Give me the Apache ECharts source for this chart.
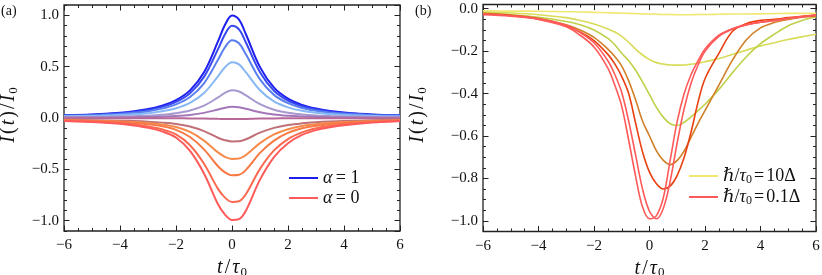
<!DOCTYPE html>
<html>
<head>
<meta charset="utf-8">
<script src="https://cdn.jsdelivr.net/npm/echarts@6/dist/echarts.min.js"></script>
<style>
html,body{margin:0;padding:0;background:#fff;}
#c{width:822px;height:275px;}
</style>
</head>
<body>
<div id="c"></div>
<script>
// ---------- Panel (a) data ----------
const T_A = [-6,-5,-4,-3.5,-3,-2.5,-2,-1.5,-1,-0.5,-0.25,0,0.25,0.5,1,1.5,2,2.5,3,3.5,4,5,6];
const A_P1 = [0.028,0.034,0.051,0.066,0.087,0.12,0.174,0.269,0.445,0.745,0.907,0.997,0.957,0.813,0.495,0.296,0.189,0.128,0.092,0.069,0.054,0.035,0.027];
const A_P2 = [0.026,0.031,0.046,0.059,0.078,0.108,0.157,0.242,0.40,0.67,0.815,0.897,0.862,0.732,0.446,0.266,0.17,0.115,0.083,0.062,0.049,0.032,0.025];
const A_P3 = [0.023,0.026,0.039,0.05,0.066,0.091,0.132,0.204,0.338,0.566,0.689,0.758,0.727,0.618,0.376,0.225,0.144,0.097,0.07,0.052,0.041,0.027,0.021];
const A_P4 = [0.018,0.019,0.028,0.036,0.047,0.065,0.095,0.147,0.243,0.406,0.494,0.543,0.522,0.443,0.27,0.161,0.103,0.07,0.05,0.038,0.029,0.019,0.015];
const A_P5 = [0.01,0.01,0.014,0.018,0.023,0.032,0.047,0.073,0.12,0.2,0.245,0.269,0.258,0.22,0.134,0.08,0.051,0.035,0.025,0.019,0.015,0.01,0.008];
const A_P6 = [0.004,0.005,0.006,0.008,0.01,0.013,0.019,0.03,0.05,0.083,0.1,0.11,0.105,0.09,0.055,0.033,0.021,0.014,0.01,0.008,0.006,0.004,0.003];
const A_Z  = [-0.002,-0.002,-0.002,-0.002,-0.003,-0.003,-0.003,-0.004,-0.005,-0.008,-0.009,-0.01,-0.01,-0.009,-0.006,-0.004,-0.003,-0.003,-0.003,-0.002,-0.002,-0.002,-0.002];
const A_N5 = [-0.018,-0.021,-0.026,-0.03,-0.036,-0.045,-0.058,-0.083,-0.128,-0.192,-0.216,-0.228,-0.227,-0.207,-0.143,-0.096,-0.068,-0.052,-0.042,-0.035,-0.03,-0.022,-0.018];
const A_N4 = [-0.022,-0.026,-0.033,-0.04,-0.05,-0.064,-0.088,-0.136,-0.22,-0.335,-0.378,-0.398,-0.395,-0.36,-0.245,-0.16,-0.11,-0.078,-0.06,-0.048,-0.04,-0.028,-0.022];
const A_N3 = [-0.025,-0.03,-0.04,-0.05,-0.062,-0.08,-0.115,-0.185,-0.305,-0.47,-0.53,-0.558,-0.553,-0.505,-0.34,-0.22,-0.145,-0.1,-0.075,-0.06,-0.048,-0.033,-0.025];
const A_N2 = [-0.028,-0.034,-0.05,-0.063,-0.082,-0.11,-0.16,-0.265,-0.445,-0.69,-0.775,-0.817,-0.81,-0.74,-0.495,-0.315,-0.205,-0.14,-0.1,-0.077,-0.06,-0.04,-0.028];
const A_N1 = [-0.03,-0.038,-0.056,-0.072,-0.095,-0.13,-0.19,-0.32,-0.54,-0.84,-0.94,-0.993,-0.985,-0.90,-0.60,-0.38,-0.245,-0.165,-0.118,-0.09,-0.07,-0.045,-0.03];
const A_SERIES = [A_P1,A_P2,A_P3,A_P4,A_P5,A_P6,A_Z,A_N5,A_N4,A_N3,A_N2,A_N1];
const A_COLORS = ['#1e1ef0','#3848f0','#5a80f0','#88b8f4','#a898d0','#a478b8','#b86898','#c07078','#f58a4a','#f77a45','#fb6a50','#ff5a5a'];
const A_NAMES = ['α = 1','a2','a3','a4','a5','a6','a7','a8','a9','a10','a11','α = 0'];

// ---------- Panel (b) data ----------
const T_B = [-6,-5,-4,-3,-2.5,-2,-1.5,-1.25,-1,-0.75,-0.5,-0.25,0,0.25,0.5,0.75,1,1.25,1.5,1.75,2,2.5,3,3.5,4,4.5,5,5.5,6];
const B1 = [-0.01,-0.011,-0.012,-0.014,-0.015,-0.017,-0.019,-0.02,-0.021,-0.022,-0.023,-0.024,-0.025,-0.026,-0.027,-0.027,-0.028,-0.028,-0.028,-0.027,-0.027,-0.026,-0.025,-0.025,-0.024,-0.023,-0.022,-0.022,-0.021];
const B2 = [-0.015,-0.02,-0.028,-0.042,-0.055,-0.072,-0.095,-0.11,-0.13,-0.158,-0.19,-0.218,-0.24,-0.254,-0.261,-0.265,-0.266,-0.265,-0.262,-0.257,-0.25,-0.235,-0.215,-0.195,-0.175,-0.16,-0.145,-0.132,-0.12];
const B3 = [-0.02,-0.028,-0.04,-0.06,-0.075,-0.1,-0.14,-0.17,-0.21,-0.245,-0.29,-0.345,-0.405,-0.465,-0.512,-0.542,-0.55,-0.535,-0.51,-0.48,-0.45,-0.38,-0.3,-0.225,-0.165,-0.12,-0.08,-0.055,-0.038];
const B4 = [-0.022,-0.03,-0.045,-0.075,-0.1,-0.135,-0.19,-0.225,-0.27,-0.34,-0.43,-0.53,-0.6,-0.67,-0.715,-0.735,-0.715,-0.67,-0.605,-0.54,-0.48,-0.36,-0.24,-0.145,-0.09,-0.065,-0.05,-0.04,-0.035];
const B5 = [-0.025,-0.032,-0.048,-0.08,-0.11,-0.15,-0.215,-0.26,-0.32,-0.40,-0.54,-0.675,-0.77,-0.825,-0.85,-0.835,-0.785,-0.70,-0.58,-0.44,-0.33,-0.21,-0.105,-0.07,-0.055,-0.05,-0.042,-0.036,-0.03];
const B6 = [-0.028,-0.035,-0.05,-0.085,-0.125,-0.18,-0.28,-0.36,-0.46,-0.62,-0.79,-0.935,-0.99,-0.975,-0.89,-0.71,-0.53,-0.40,-0.31,-0.245,-0.19,-0.125,-0.093,-0.075,-0.063,-0.055,-0.045,-0.037,-0.03];
const B7 = [-0.025,-0.033,-0.047,-0.078,-0.112,-0.16,-0.245,-0.31,-0.395,-0.53,-0.69,-0.85,-0.955,-0.99,-0.94,-0.81,-0.63,-0.47,-0.35,-0.265,-0.2,-0.13,-0.095,-0.076,-0.064,-0.056,-0.046,-0.038,-0.031];
const B_SERIES = [B1,B2,B3,B4,B5,B6,B7];
const B_COLORS = ['#f2e870','#d8dc58','#c0d048','#d08028','#e84010','#ff5a5a','#ff5a5a'];
const B_NAMES = ['ℏ/τ0=10Δ','b2','b3','b4','b5','b6','ℏ/τ0=0.1Δ'];

const X_TICKS = {min:-6, max:6, interval:2};

// ---------- chart ----------
const FONT = "'Liberation Serif','DejaVu Serif',serif";
const chart = echarts.init(document.getElementById('c'), null, {renderer:'canvas'});
const minus = s => s.replace('-', '−');
const yFmt = v => { if (Math.abs(v) < 1e-9) return '0.0'; return minus(v.toFixed(1)); };
const xFmt = v => minus(String(Math.round(v)));

const tickCol = '#222';
const nameRich = {
  i:{fontFamily:FONT, fontStyle:'italic', fontSize:20, color:'#111', lineHeight:22, padding:[0,1,0,1]},
  n:{fontFamily:FONT, fontSize:20, color:'#111', lineHeight:22, padding:[0,1,0,1]},
  s:{fontFamily:FONT, fontSize:13, color:'#111', lineHeight:14, padding:[8,1,0,0], verticalAlign:'bottom'}
};
function xAx(grid, pos, labels){
  return {type:'value', gridIndex:grid, position:pos, min:X_TICKS.min, max:X_TICKS.max, interval:X_TICKS.interval,
    axisLine:{show:false, onZero:false}, splitLine:{show:false},
    axisTick:{show:true, inside:true, length:5.5, lineStyle:{color:tickCol, width:1}},
    minorTick:{show:true, splitNumber:4, length:3, lineStyle:{color:tickCol, width:1}},
    axisLabel:{show:labels, margin:7, fontFamily:FONT, fontSize:15, color:'#111', formatter:xFmt},
    name: labels ? '{i|t}{n|/}{i|τ}{s|0}' : '', nameLocation:'middle', nameGap:22,
    nameTextStyle:{rich:nameRich}
  };
}
function yMajor(grid, pos, min, max, labels, nameGap){
  return {type:'value', gridIndex:grid, position:pos, min:min, max:max, splitNumber:5,
    axisLine:{show:false, onZero:false}, splitLine:{show:false},
    axisTick:{show:true, inside:true, length:5.5, lineStyle:{color:tickCol, width:1}},
    axisLabel:{show:labels, margin:5, fontFamily:FONT, fontSize:15, color:'#111', formatter:yFmt, showMinLabel:false, showMaxLabel:false},
    name: labels ? '{i|I}{n|(}{i|t}{n|)}{n|/}{i|I}{s|0}' : '', nameLocation:'middle', nameGap:nameGap, nameRotate:90,
    nameTextStyle:{rich:nameRich, padding:[0,0,0,6]}
  };
}
function yMinor(grid, pos, min, max, interval){
  return {type:'value', gridIndex:grid, position:pos, min:min, max:max, interval:interval,
    axisLine:{show:false, onZero:false}, splitLine:{show:false}, axisLabel:{show:false},
    axisTick:{show:true, inside:true, length:3, lineStyle:{color:tickCol, width:1}}};
}

const A_MIN=-1.1, A_MAX=1.1, B_MIN=-1.05, B_MAX=0.02;

const series = [];
A_SERIES.forEach((arr,k)=>{
  series.push({type:'line', name:A_NAMES[k], xAxisIndex:0, yAxisIndex:0, showSymbol:false, symbol:'none',
    smooth:0.35, lineStyle:{color:A_COLORS[k], width:2}, itemStyle:{color:A_COLORS[k]},
    emphasis:{disabled:true}, data:T_A.map((t,i)=>[t,arr[i]])});
});
B_SERIES.forEach((arr,k)=>{
  series.push({type:'line', name:B_NAMES[k], xAxisIndex:2, yAxisIndex:4, showSymbol:false, symbol:'none',
    smooth:0.35, lineStyle:{color:B_COLORS[k], width:1.6}, itemStyle:{color:B_COLORS[k]},
    emphasis:{disabled:true}, data:T_B.map((t,i)=>[t,arr[i]])});
});

const legendRich = {
  i:{fontFamily:FONT, fontStyle:'italic', fontSize:18, color:'#111'},
  n:{fontFamily:FONT, fontSize:18, color:'#111'},
  g:{fontFamily:FONT, fontSize:18, color:'#111', padding:[0,2,0,2]},
  s:{fontFamily:FONT, fontSize:12, color:'#111', padding:[8,0,0,0], verticalAlign:'bottom'}
};
const legendFmt = name => {
  if (name==='α = 1') return '{i|α} {n|= 1}';
  if (name==='α = 0') return '{i|α} {n|= 0}';
  if (name==='ℏ/τ0=10Δ') return '{i|ℏ}{n|/}{i|τ}{s|0}{g|=}{n|10Δ}';
  if (name==='ℏ/τ0=0.1Δ') return '{i|ℏ}{n|/}{i|τ}{s|0}{g|=}{n|0.1Δ}';
  return name;
};

chart.setOption({
  animation:false,
  backgroundColor:'#fff',
  grid:[
    {left:64, top:5, width:336, height:226, outerBoundsMode:'none', containLabel:false, show:true, borderColor:'#222', borderWidth:1.3, backgroundColor:'transparent'},
    {left:483, top:4.5, width:333, height:227, outerBoundsMode:'none', containLabel:false, show:true, borderColor:'#222', borderWidth:1.3, backgroundColor:'transparent'}
  ],
  xAxis:[xAx(0,'bottom',true), xAx(0,'top',false), xAx(1,'bottom',true), xAx(1,'top',false)],
  yAxis:[
    yMajor(0,'left',A_MIN,A_MAX,true,44), yMinor(0,'left',A_MIN,A_MAX,0.1),
    yMajor(0,'right',A_MIN,A_MAX,false,0), yMinor(0,'right',A_MIN,A_MAX,0.1),
    yMajor(1,'left',B_MIN,B_MAX,true,54), yMinor(1,'left',B_MIN,B_MAX,0.05),
    yMajor(1,'right',B_MIN,B_MAX,false,0), yMinor(1,'right',B_MIN,B_MAX,0.05)
  ],
  legend:[
    {data:['α = 1','α = 0'], left:289, top:169, orient:'vertical', padding:0, itemGap:2, itemWidth:29, itemHeight:2, icon:'rect',
     formatter:legendFmt, textStyle:{rich:legendRich}, selectedMode:false},
    {data:['ℏ/τ0=10Δ','ℏ/τ0=0.1Δ'], left:689, top:167, orient:'vertical', padding:0, itemGap:2, itemWidth:29, itemHeight:2, icon:'rect',
     formatter:legendFmt, textStyle:{rich:legendRich}, selectedMode:false}
  ],
  graphic:[
    {type:'text', left:1, top:4, style:{text:'(a)', font:"14px 'Liberation Serif','DejaVu Serif',serif", fill:'#111'}},
    {type:'text', left:415, top:4, style:{text:'(b)', font:"14px 'Liberation Serif','DejaVu Serif',serif", fill:'#111'}}
  ],
  series:series
});
</script>
</body>
</html>
